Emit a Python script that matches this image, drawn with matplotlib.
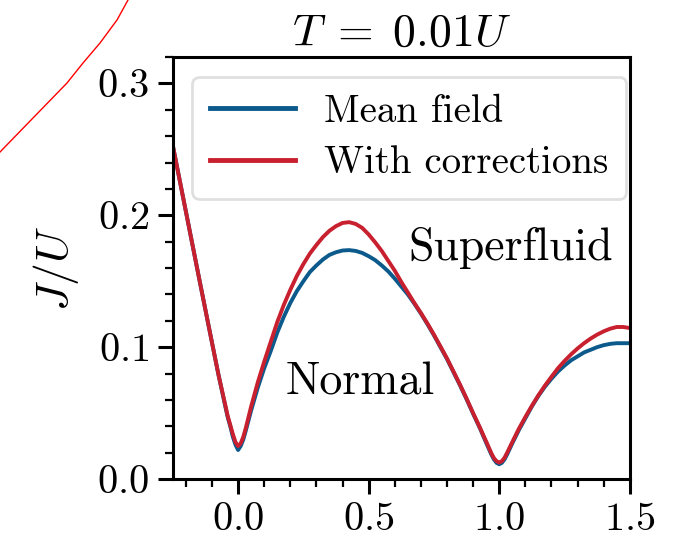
import matplotlib
matplotlib.use("Agg")
import matplotlib.pyplot as plt
from matplotlib.ticker import MultipleLocator

plt.rcParams['font.family'] = 'serif'
plt.rcParams['font.serif'] = ['cmr10']
plt.rcParams['mathtext.fontset'] = 'cm'
plt.rcParams['axes.formatter.use_mathtext'] = True
plt.rcParams['axes.unicode_minus'] = False

# chemical potential mu/U
mu = [-0.25, -0.20, -0.15, -0.10, -0.075, -0.05, -0.04, -0.03, -0.02, -0.01,
      0.0, 0.01, 0.02, 0.03, 0.05, 0.075,
      0.100, 0.125, 0.150, 0.175, 0.200, 0.225, 0.250, 0.275, 0.300, 0.325,
      0.350, 0.375, 0.400, 0.425, 0.450, 0.475, 0.500, 0.525, 0.550, 0.575,
      0.600, 0.625, 0.650, 0.675, 0.700, 0.725, 0.750, 0.775, 0.800, 0.825,
      0.850, 0.875, 0.900, 0.925, 0.950,
      0.96, 0.97, 0.98, 0.99, 1.0, 1.01, 1.02, 1.03, 1.05, 1.075,
      1.100, 1.125, 1.150, 1.175, 1.200, 1.225, 1.250, 1.275, 1.300, 1.325,
      1.350, 1.375, 1.400, 1.425, 1.450, 1.475, 1.500]

# critical J/U, mean field
j_mf = [0.253, 0.203, 0.153, 0.1035, 0.079, 0.056, 0.047, 0.040, 0.032, 0.026,
        0.022, 0.025, 0.030, 0.037, 0.052, 0.069,
        0.084, 0.097, 0.111, 0.123, 0.1335, 0.1425, 0.150, 0.157, 0.162, 0.1665,
        0.170, 0.172, 0.1733, 0.1736, 0.173, 0.1715, 0.169, 0.166, 0.162, 0.1575,
        0.152, 0.146, 0.140, 0.133, 0.1255, 0.1175, 0.109, 0.100, 0.091, 0.081,
        0.071, 0.0605, 0.0495, 0.039, 0.0275,
        0.023, 0.0185, 0.0148, 0.0122, 0.0112, 0.0122, 0.0148, 0.0185, 0.027, 0.037,
        0.046, 0.055, 0.063, 0.070, 0.076, 0.0815, 0.086, 0.090, 0.093, 0.096,
        0.098, 0.100, 0.1015, 0.1025, 0.103, 0.103, 0.103]

# critical J/U, with corrections
j_corr = [0.253, 0.203, 0.153, 0.1035, 0.079, 0.057, 0.048, 0.041, 0.034, 0.028,
          0.025, 0.027, 0.032, 0.039, 0.055, 0.073,
          0.089, 0.104, 0.119, 0.132, 0.1435, 0.154, 0.163, 0.171, 0.1775, 0.1835,
          0.1883, 0.1918, 0.1942, 0.1948, 0.1935, 0.1905, 0.1855, 0.1795, 0.173, 0.1655,
          0.158, 0.1495, 0.1415, 0.1335, 0.126, 0.118, 0.1095, 0.1005, 0.0915, 0.0815,
          0.0715, 0.061, 0.050, 0.0395, 0.0285,
          0.024, 0.0195, 0.0158, 0.0135, 0.0125, 0.0135, 0.016, 0.0198, 0.028, 0.038,
          0.047, 0.0555, 0.0635, 0.0708, 0.0775, 0.084, 0.0895, 0.0945, 0.099, 0.103,
          0.1065, 0.1095, 0.112, 0.114, 0.1153, 0.1153, 0.1145]

# stray curve from the neighbouring panel (figure pixels)
arc_x = [0, 33, 67, 83, 100, 117, 128]
arc_y = [152, 118, 83, 63, 43, 20, 0]

blue = '#0c5a8c'
red = '#c8202f'
fs_tick = 29
fs_leg = 28
fs_big = 33

fig = plt.figure(figsize=(6.75, 5.49), dpi=100)
ax = fig.add_axes([0.256, 0.1275, 0.677, 0.7685])

ax.plot(mu, j_mf, color=blue, lw=2.8, label='Mean field')
ax.plot(mu, j_corr, color=red, lw=2.8, label='With corrections')

ax.set_xlim(-0.25, 1.5)
ax.set_ylim(0, 0.32)
ax.xaxis.set_major_locator(MultipleLocator(0.5))
ax.xaxis.set_minor_locator(MultipleLocator(0.1))
ax.yaxis.set_major_locator(MultipleLocator(0.1))
ax.yaxis.set_minor_locator(MultipleLocator(0.02))
ax.tick_params(which='major', length=11, width=2.2, labelsize=fs_tick, pad=6)
ax.tick_params(which='minor', length=6, width=1.6)
for s in ax.spines.values():
    s.set_linewidth(2.2)

ax.set_ylabel('$J/U$', fontsize=fs_big, labelpad=12)
ax.set_title(r'$T\;=\;0.01U$', fontsize=fs_big, pad=8)

ax.text(0.654, 0.175, 'Superfluid', fontsize=fs_big, va='center')
ax.text(0.182, 0.073, 'Normal', fontsize=fs_big, va='center')

leg = ax.legend(loc='upper left', fontsize=fs_leg, handlelength=2.2,
                handletextpad=0.75, borderaxespad=0.5, labelspacing=0.4,
                borderpad=0.45, fancybox=True, framealpha=0.8)
leg.get_frame().set_linewidth(2.0)
leg.get_frame().set_edgecolor('#d8d8d8')
for h in leg.get_lines():
    h.set_linewidth(3.5)

ov = fig.add_axes([0, 0, 1, 1], facecolor='none')
ov.set_xlim(0, 675)
ov.set_ylim(549, 0)
ov.axis('off')
ov.plot(arc_x, arc_y, color='red', lw=1.0)

fig.savefig('out.png', dpi=100)
